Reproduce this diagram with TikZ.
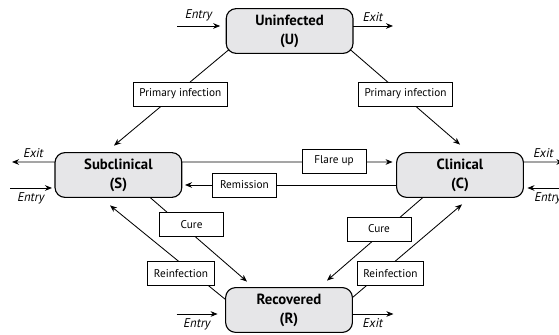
\documentclass[tikz,border=0pt]{standalone}
\usepackage{fontspec}
\setmainfont{PT Sans}
\usepackage{tikz}
\usetikzlibrary{arrows.meta}

\definecolor{statefill}{RGB}{230,230,232}

\begin{document}
\begin{tikzpicture}[
  state/.style={draw, line width=0.8pt, fill=statefill, rounded corners=0.25cm,
    minimum width=3.17cm, minimum height=1.12cm, outer sep=0pt, align=center,
    font=\bfseries\fontsize{10.5}{13.5}\selectfont},
  tag/.style={draw, line width=0.6pt, fill=white, minimum width=1.6cm,
    minimum height=0.6cm, inner xsep=0.15cm, font=\fontsize{8}{10}\selectfont},
  io/.style={inner sep=1pt, font=\itshape\fontsize{9}{11}\selectfont},
  flow/.style={line width=0.6pt, -{Stealth[length=5pt,width=4pt]}}]
\useasboundingbox (0,0) rectangle (13.975,8.375);

\node[state] (U) at (7.24,7.6) {Uninfected\\(U)};
\node[state] (S) at (2.96,4.0) {Subclinical\\(S)};
\node[state] (C) at (11.5,4.0) {Clinical\\(C)};
\node[state] (R) at (7.225,0.625) {Recovered\\(R)};

\draw[flow] ([shift={(0.075,0.1)}]U.south west) -- ([shift={(-0.11,0.175)}]S.north);
\draw[flow] ([shift={(-0.075,0.1)}]U.south east) -- ([shift={(0,0.2)}]C.north);
\draw[flow] ([yshift=0.325cm]S.east) -- ([shift={(-0.1,0.325)}]C.west);
\draw[flow] ([yshift=-0.25cm]C.west) -- ([shift={(0.08,-0.25)}]S.east);
\draw[flow] ([xshift=0.79cm]S.south) -- ([shift={(-1.05,0.15)}]R.north);
\draw[flow] ([yshift=-0.3cm]R.north west) -- ([shift={(-0.21,-0.2)}]S.south);
\draw[flow] ([xshift=-0.925cm]C.south) -- ([shift={(0.95,0.175)}]R.north);
\draw[flow] ([yshift=-0.25cm]R.north east) -- ([shift={(0.05,-0.175)}]C.south);

\node[tag] (infS) at (4.51,6.025) {Primary infection};
\node[tag] (infC) at (10.14,6.025) {Primary infection};
\node[tag] (flare) at (8.35,4.35) {Flare up};
\node[tag] (remit) at (6.11,3.75) {Remission};
\node[tag] (cureS) at (4.79,2.76) {Cure};
\node[tag] (cureC) at (9.475,2.65) {Cure};
\node[tag] (reS) at (4.525,1.54) {Reinfection};
\node[tag] (reC) at (9.76,1.54) {Reinfection};

\draw[flow] ([shift={(-1.225,0.125)}]U.west) -- node[above=2pt,io] {Entry} ([shift={(-0.15,0.125)}]U.west);
\draw[flow] ([yshift=0.125cm]U.east) -- node[above=2pt,io] {Exit} ([shift={(1.0,0.125)}]U.east);
\draw[flow] ([yshift=0.325cm]S.west) -- node[above=2pt,io] {Exit} ([shift={(-1.075,0.325)}]S.west);
\draw[flow] ([shift={(-1.125,-0.325)}]S.west) -- node[below=2pt,io] {Entry} ([shift={(-0.075,-0.325)}]S.west);
\draw[flow] ([yshift=0.325cm]C.east) -- node[above=2pt,io] {Exit} ([shift={(1.0,0.325)}]C.east);
\draw[flow] ([shift={(1.125,-0.325)}]C.east) -- node[below=2pt,io] {Entry} ([shift={(0.1,-0.325)}]C.east);
\draw[flow] ([shift={(-1.225,-0.1)}]R.west) -- node[below=2pt,io] {Entry} ([shift={(-0.2,-0.1)}]R.west);
\draw[flow] ([yshift=-0.1cm]R.east) -- node[below=2pt,io] {Exit} ([shift={(1.025,-0.1)}]R.east);
\end{tikzpicture}
\end{document}
